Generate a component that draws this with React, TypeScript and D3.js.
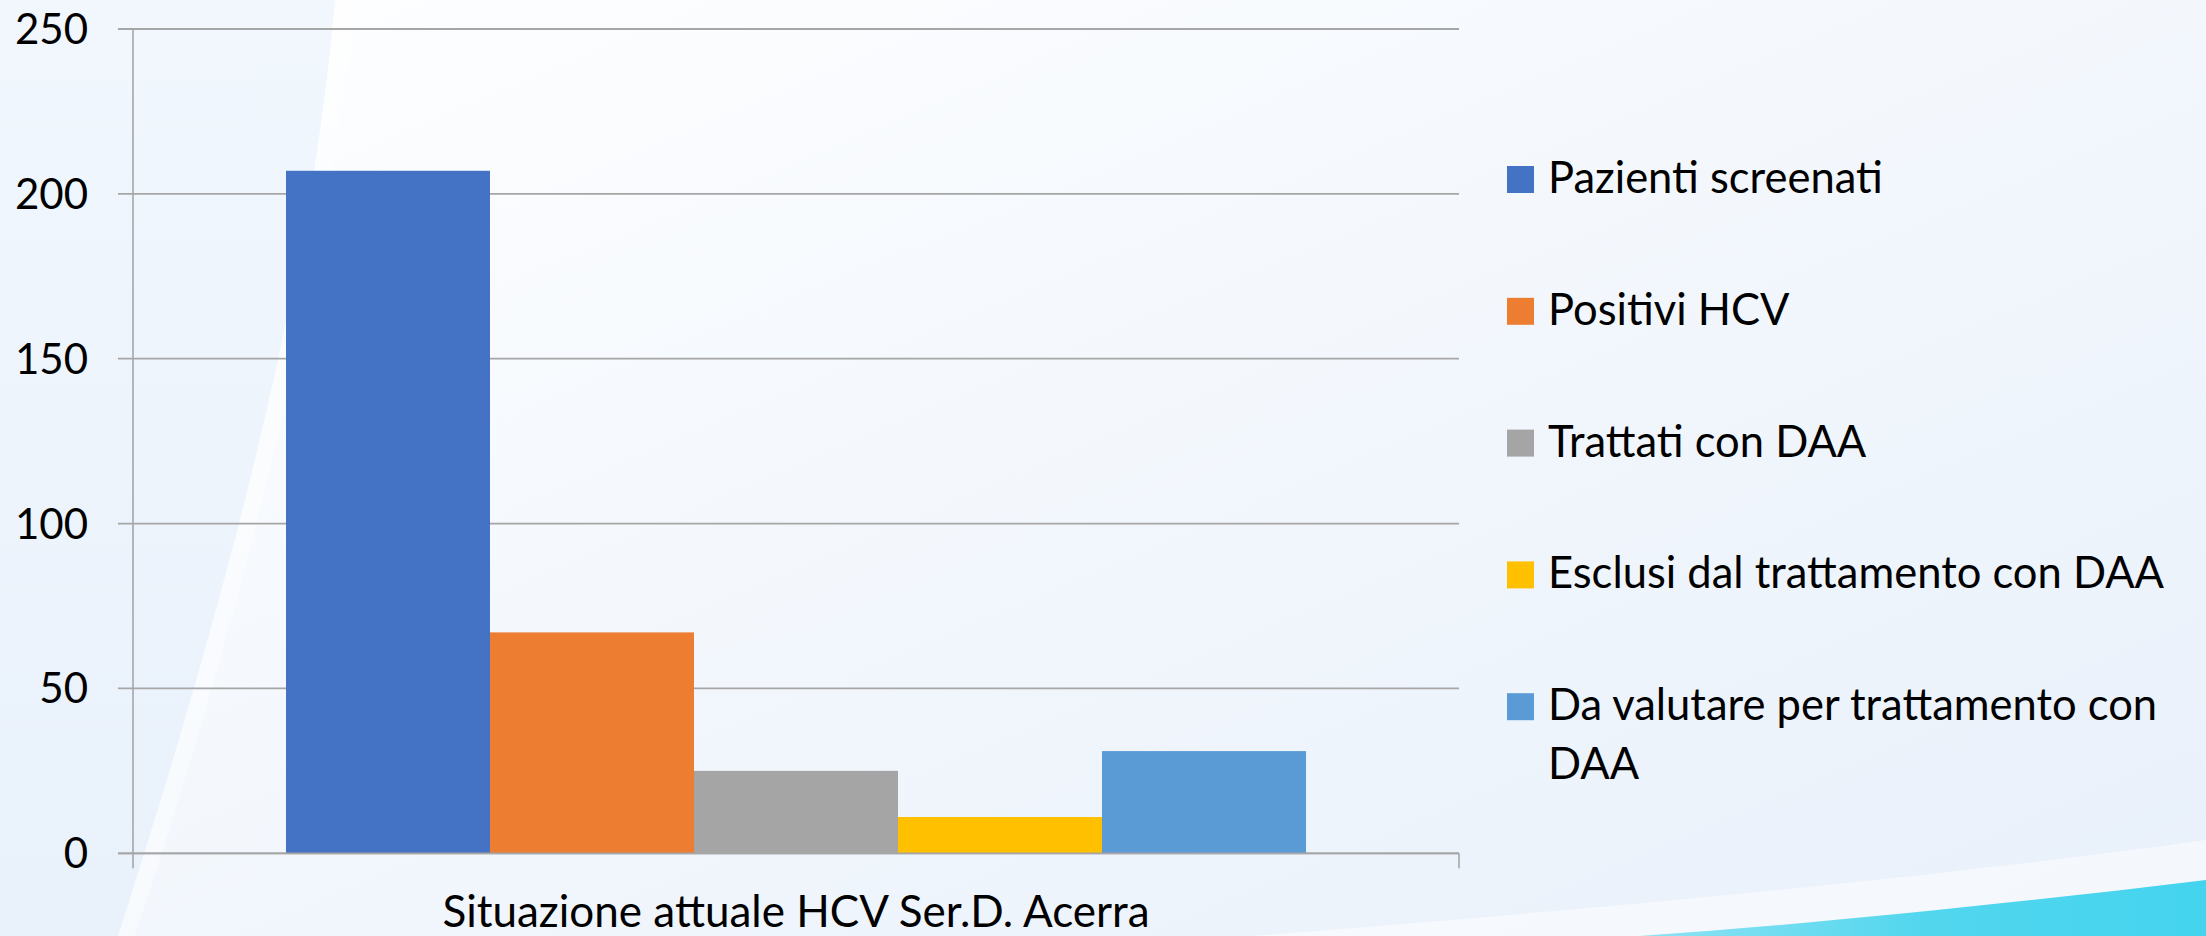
import React from "react";
import * as d3 from "d3";

const categories = ["Situazione attuale HCV Ser.D. Acerra"];
const seriesNames = [
  "Pazienti screenati",
  "Positivi HCV",
  "Trattati con DAA",
  "Esclusi dal trattamento con DAA",
  "Da valutare per trattamento con DAA",
];
const seriesValues = [207, 67, 25, 11, 31];
const seriesColors = ["#4472C4", "#ED7D31", "#A5A5A5", "#FFC000", "#5B9BD5"];
const yTicks = [0, 50, 100, 150, 200, 250];
const legendLines = [
  ["Pazienti screenati"],
  ["Positivi HCV"],
  ["Trattati con DAA"],
  ["Esclusi dal trattamento con DAA"],
  ["Da valutare per trattamento con", "DAA"],
];

const W = 2206;
const H = 936;
const M = { left: 133, right: 1459, top: 29, bottom: 853.3 };
const FONT = "Lato, 'Open Sans', sans-serif";

export default function App() {
  const y = d3.scaleLinear().domain([0, 250]).range([M.bottom, M.top]);
  const x0 = d3
    .scaleBand<string>()
    .domain(categories)
    .range([M.left, M.right])
    .paddingInner(0)
    .paddingOuter(0.15);
  const x1 = d3
    .scaleBand<string>()
    .domain(seriesNames)
    .range([0, x0.bandwidth()])
    .padding(0);

  const gridColor = "#a6a6a6";
  const legX = 1507;
  const legText = 1548;
  const legBase = 193;
  const legStep = 131.8;
  const legLine = 59;
  const sq = 27;

  return (
    <svg
      width={W}
      height={H}
      viewBox={`0 0 ${W} ${H}`}
      style={{ position: "absolute", left: 0, top: 0, display: "block" }}
    >
      <defs>
        <linearGradient id="bg" x1="0" y1="0" x2="1" y2="1">
          <stop offset="0" stopColor="#ffffff" />
          <stop offset="0.45" stopColor="#f4f8fd" />
          <stop offset="1" stopColor="#e8f0fa" />
        </linearGradient>
        <linearGradient id="cyan" x1="0" y1="0" x2="1" y2="0">
          <stop offset="0" stopColor="#8fe3f3" />
          <stop offset="0.5" stopColor="#52d6ee" />
          <stop offset="1" stopColor="#44d4ee" />
        </linearGradient>
        <linearGradient id="leftw" x1="0" y1="0" x2="0" y2="1">
          <stop offset="0" stopColor="#f1f7fd" />
          <stop offset="1" stopColor="#e9f1fb" />
        </linearGradient>
      </defs>

      {/* background */}
      <rect x={0} y={0} width={W} height={H} fill="url(#bg)" />
      <path d="M0,0 L335,0 C 310,300 210,650 118,936 L0,936 Z" fill="url(#leftw)" />
      <path
        d="M335,0 L355,0 C 325,300 230,650 135,936 L118,936 C 210,650 310,300 335,0 Z"
        fill="#ffffff"
        opacity={0.4}
      />
      <path
        d="M1250,936 C 1650,905 1950,875 2206,840 L2206,880 C 2000,905 1800,925 1640,936 Z"
        fill="#ffffff"
        opacity={0.5}
      />
      <path
        d="M1640,936 C 1800,925 2000,905 2206,880 L2206,936 Z"
        fill="url(#cyan)"
      />

      {/* gridlines and y ticks */}
      {yTicks.map((t) => (
        <line
          key={`g${t}`}
          x1={M.left - 15}
          x2={M.right}
          y1={y(t)}
          y2={y(t)}
          stroke={gridColor}
          strokeWidth={1.8}
        />
      ))}
      {/* y axis */}
      <line x1={M.left} x2={M.left} y1={M.top} y2={M.bottom + 15} stroke={gridColor} strokeWidth={1.6} />
      {/* x axis tick at band edge */}
      <line x1={M.right} x2={M.right} y1={M.bottom} y2={M.bottom + 15} stroke={gridColor} strokeWidth={1.6} />

      {/* bars */}
      {categories.map((c) => (
        <g key={c} transform={`translate(${x0(c)},0)`}>
          {seriesNames.map((s, i) => (
            <rect
              key={s}
              x={x1(s)}
              y={y(seriesValues[i])}
              width={x1.bandwidth()}
              height={y(0) - y(seriesValues[i])}
              fill={seriesColors[i]}
            />
          ))}
        </g>
      ))}
      {/* baseline over bars */}
      <line x1={M.left - 15} x2={M.right} y1={y(0)} y2={y(0)} stroke={gridColor} strokeWidth={1.8} />

      {/* y tick labels */}
      {yTicks.map((t) => (
        <text
          key={`t${t}`}
          x={88}
          y={y(t) + 15}
          textAnchor="end"
          fontFamily={FONT}
          fontSize={42}
          fill="#000"
        >
          {t}
        </text>
      ))}

      {/* category label */}
      {categories.map((c) => (
        <text
          key={`c${c}`}
          x={(x0(c) as number) + x0.bandwidth() / 2}
          y={927}
          textAnchor="middle"
          fontFamily={FONT}
          fontSize={44}
          fill="#000"
        >
          {c}
        </text>
      ))}

      {/* legend */}
      {legendLines.map((lines, i) => {
        const base = legBase + i * legStep;
        return (
          <g key={`l${i}`}>
            <rect x={legX} y={base - sq} width={sq} height={sq} fill={seriesColors[i]} />
            {lines.map((ln, j) => (
              <text
                key={j}
                x={legText}
                y={base + j * legLine}
                fontFamily={FONT}
                fontSize={43.5}
                fill="#000"
              >
                {ln}
              </text>
            ))}
          </g>
        );
      })}
    </svg>
  );
}
